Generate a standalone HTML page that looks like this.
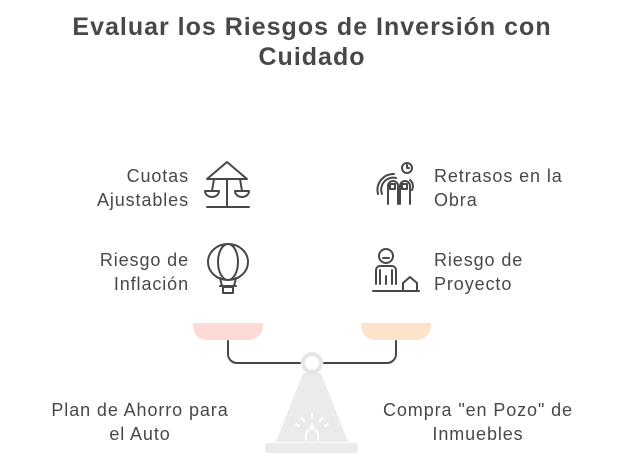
<!DOCTYPE html>
<html><head><meta charset="utf-8"><style>
body{margin:0;width:624px;height:473px;background:#fff;overflow:hidden;position:relative;font-family:"Liberation Sans",sans-serif;color:#484848}
.t{position:absolute;left:0;width:624px;text-align:center;font-weight:bold;font-size:25px;letter-spacing:1px;line-height:30px;top:12px}
.l{position:absolute;font-size:18px;letter-spacing:0.9px;line-height:24px}
.r{text-align:right}
.c{text-align:center}
</style></head><body>
<div class="t">Evaluar los Riesgos de Inversión con<br>Cuidado</div>
<div class="l r" style="right:435px;top:164px">Cuotas<br>Ajustables</div>
<div class="l r" style="right:435px;top:248px">Riesgo de<br>Inflación</div>
<div class="l" style="left:434px;top:164px">Retrasos en la<br>Obra</div>
<div class="l" style="left:434px;top:248px">Riesgo de<br>Proyecto</div>
<div class="l c" style="left:10px;width:260px;top:398px">Plan de Ahorro para<br>el Auto</div>
<div class="l c" style="left:348px;width:260px;top:398px">Compra "en Pozo" de<br>Inmuebles</div>
<svg width="624" height="473" style="position:absolute;left:0;top:0">
<g fill="none" stroke="#484848" stroke-width="2" stroke-linecap="round" stroke-linejoin="round">
<path d="M207 179 L227 162 L247 179 Z"/><path d="M227 179 V207"/><path d="M207 207 H249"/>
<path d="M214 179 L212 191 M240 179 L242 191"/>
<path d="M205 191 h14 a7 6 0 0 1 -14 0z M235 191 h14 a7 6 0 0 1 -14 0z"/>
<ellipse cx="228" cy="262" rx="20" ry="18"/><ellipse cx="228" cy="262" rx="10" ry="18"/>
<path d="M220 278 L222 286 M236 278 L234 286 M220 286 H236"/><rect x="223" y="287" width="10" height="6"/>
<path d="M388 204 V186 a5 5 0 0 1 10 0 V204 M400 204 V186 a5 5 0 0 1 10 0 V204"/>
<rect x="390" y="184" width="5" height="5"/><rect x="402" y="184" width="5" height="5"/>
<path d="M382 194 a12 12 0 0 1 14 -16 M378 194 a16 16 0 0 1 16 -20 M412 190 a8 8 0 0 0 -2 -10"/>
<circle cx="407" cy="168" r="5"/><path d="M407 165 v3 h2"/>
<circle cx="386" cy="256" r="7"/><path d="M383 258 h6"/>
<path d="M376 284 V270 a4 4 0 0 1 4 -4 h12 a4 4 0 0 1 4 4 V284 M380 270 v14 M392 270 v14 M386 276 v8"/>
<path d="M373 291 H419 M403 291 V283 L410 277 L417 283 V291"/>
<path d="M228 341 V354 a9 9 0 0 0 9 9 H300 M324 363 H387 a9 9 0 0 0 9 -9 V341"/>
</g>
<path d="M193 323 H263 V326 a14 14 0 0 1 -14 14 H207 a14 14 0 0 1 -14 -14 Z" fill="#fdd9d7"/>
<path d="M361 323 H431 V326 a14 14 0 0 1 -14 14 H375 a14 14 0 0 1 -14 -14 Z" fill="#fde3cc"/>
<path d="M303 373 H321 L348 442 H276 Z" fill="#ebebeb"/>
<rect x="265" y="443" width="93" height="10" rx="3" fill="#ebebeb"/>
<circle cx="312" cy="363" r="9" fill="#fff" stroke="#e5e5e5" stroke-width="4"/>
<g stroke="#fff" stroke-width="2" fill="none" stroke-linecap="round">
<path d="M306 440 v-5 a6 6 0 0 1 12 0 v5 M309 430 L312 425 L315 430 M312 414 v4 M302 418 l2 3 M322 418 l-2 3 M296 424 l3 2 M328 424 l-3 2"/>
</g>
</svg>
</body></html>
